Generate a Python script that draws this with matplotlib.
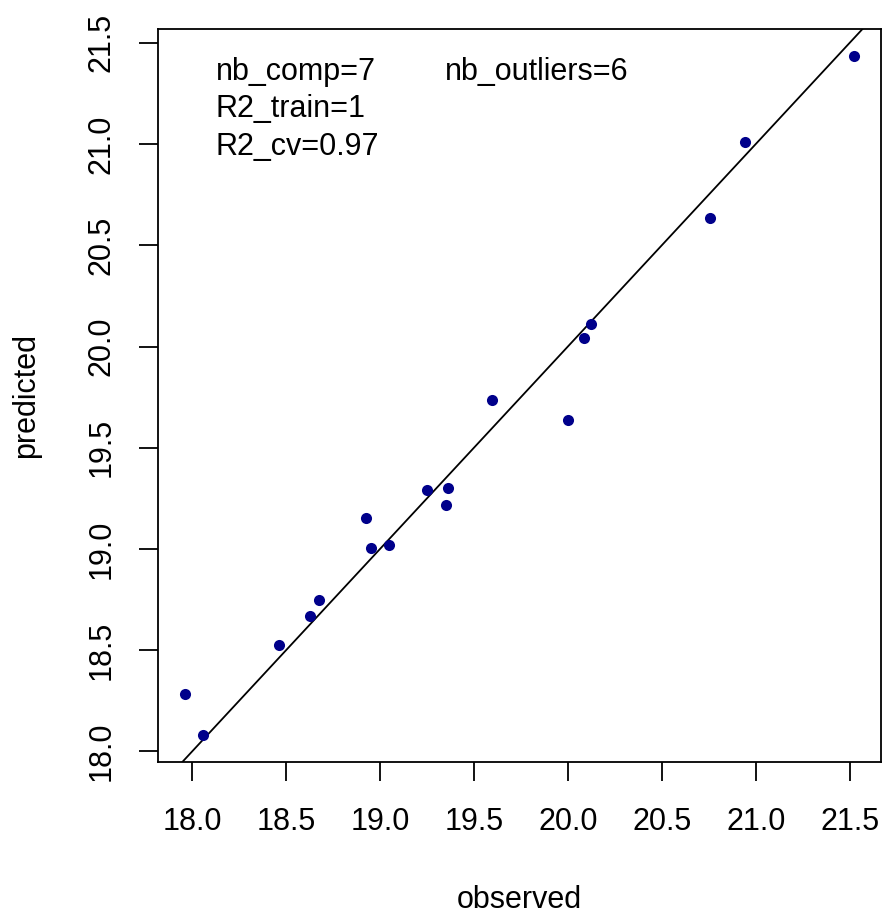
import matplotlib
matplotlib.use("Agg")
import matplotlib.pyplot as plt
import numpy as np

plt.rcParams['font.family'] = ['Liberation Sans', 'DejaVu Sans']

observed = [17.961, 18.056, 18.464, 18.629, 18.677, 18.927, 18.954, 19.049,
            19.25, 19.349, 19.36, 19.597, 19.998, 20.087, 20.122, 20.757,
            20.941, 21.524]
predicted = [18.286, 18.082, 18.524, 18.669, 18.75, 19.151, 19.003, 19.018,
             19.29, 19.219, 19.30, 19.737, 19.638, 20.040, 20.11, 20.636,
             21.011, 21.434]
ticks = [18.0, 18.5, 19.0, 19.5, 20.0, 20.5, 21.0, 21.5]
tick_labels = ["18.0", "18.5", "19.0", "19.5", "20.0", "20.5", "21.0", "21.5"]
annot = ["nb_comp=7", "R2_train=1", "R2_cv=0.97"]
annot2 = "nb_outliers=6"

FS = 22
W, H = 885, 915
fig = plt.figure(figsize=(W/100, H/100), dpi=100)
l, r, t, b = 158, 881, 29, 762
ax = fig.add_axes([l/W, 1-b/H, (r-l)/W, (b-t)/H])

ax.scatter(observed, predicted, s=8.0**2, color='#00008B', zorder=3, linewidths=0)

xr = max(observed) - min(observed)
yr = max(predicted) - min(predicted)
ax.set_xlim(min(observed) - 0.04*xr, max(observed) + 0.04*xr)
ax.set_ylim(min(predicted) - 0.04*yr, max(predicted) + 0.04*yr)
ax.axline((0, 0), slope=1, color='black', lw=1.3, zorder=2)

ax.set_xticks(ticks)
ax.set_xticklabels(tick_labels)
ax.set_yticks(ticks)
ax.set_yticklabels(tick_labels, rotation=90, va='center')
ax.tick_params(axis='both', direction='out', length=13.7, width=1.3, labelsize=FS, colors='black')
ax.tick_params(axis='x', pad=19)
ax.tick_params(axis='y', pad=16)
for s in ax.spines.values():
    s.set_linewidth(1.3)

ax.set_xlabel("observed", fontsize=FS, labelpad=34)
ax.set_ylabel("predicted", fontsize=FS, labelpad=33)

ys = [1-(80-t)/(b-t), 1-(117-t)/(b-t), 1-(155-t)/(b-t)]
x0 = (216-l)/(r-l)
for txt, yy in zip(annot, ys):
    ax.text(x0, yy, txt, transform=ax.transAxes, fontsize=FS, va='baseline', ha='left')
ax.text((445-l)/(r-l), ys[0], annot2, transform=ax.transAxes, fontsize=FS, va='baseline', ha='left')

fig.savefig("out.png", dpi=100)
